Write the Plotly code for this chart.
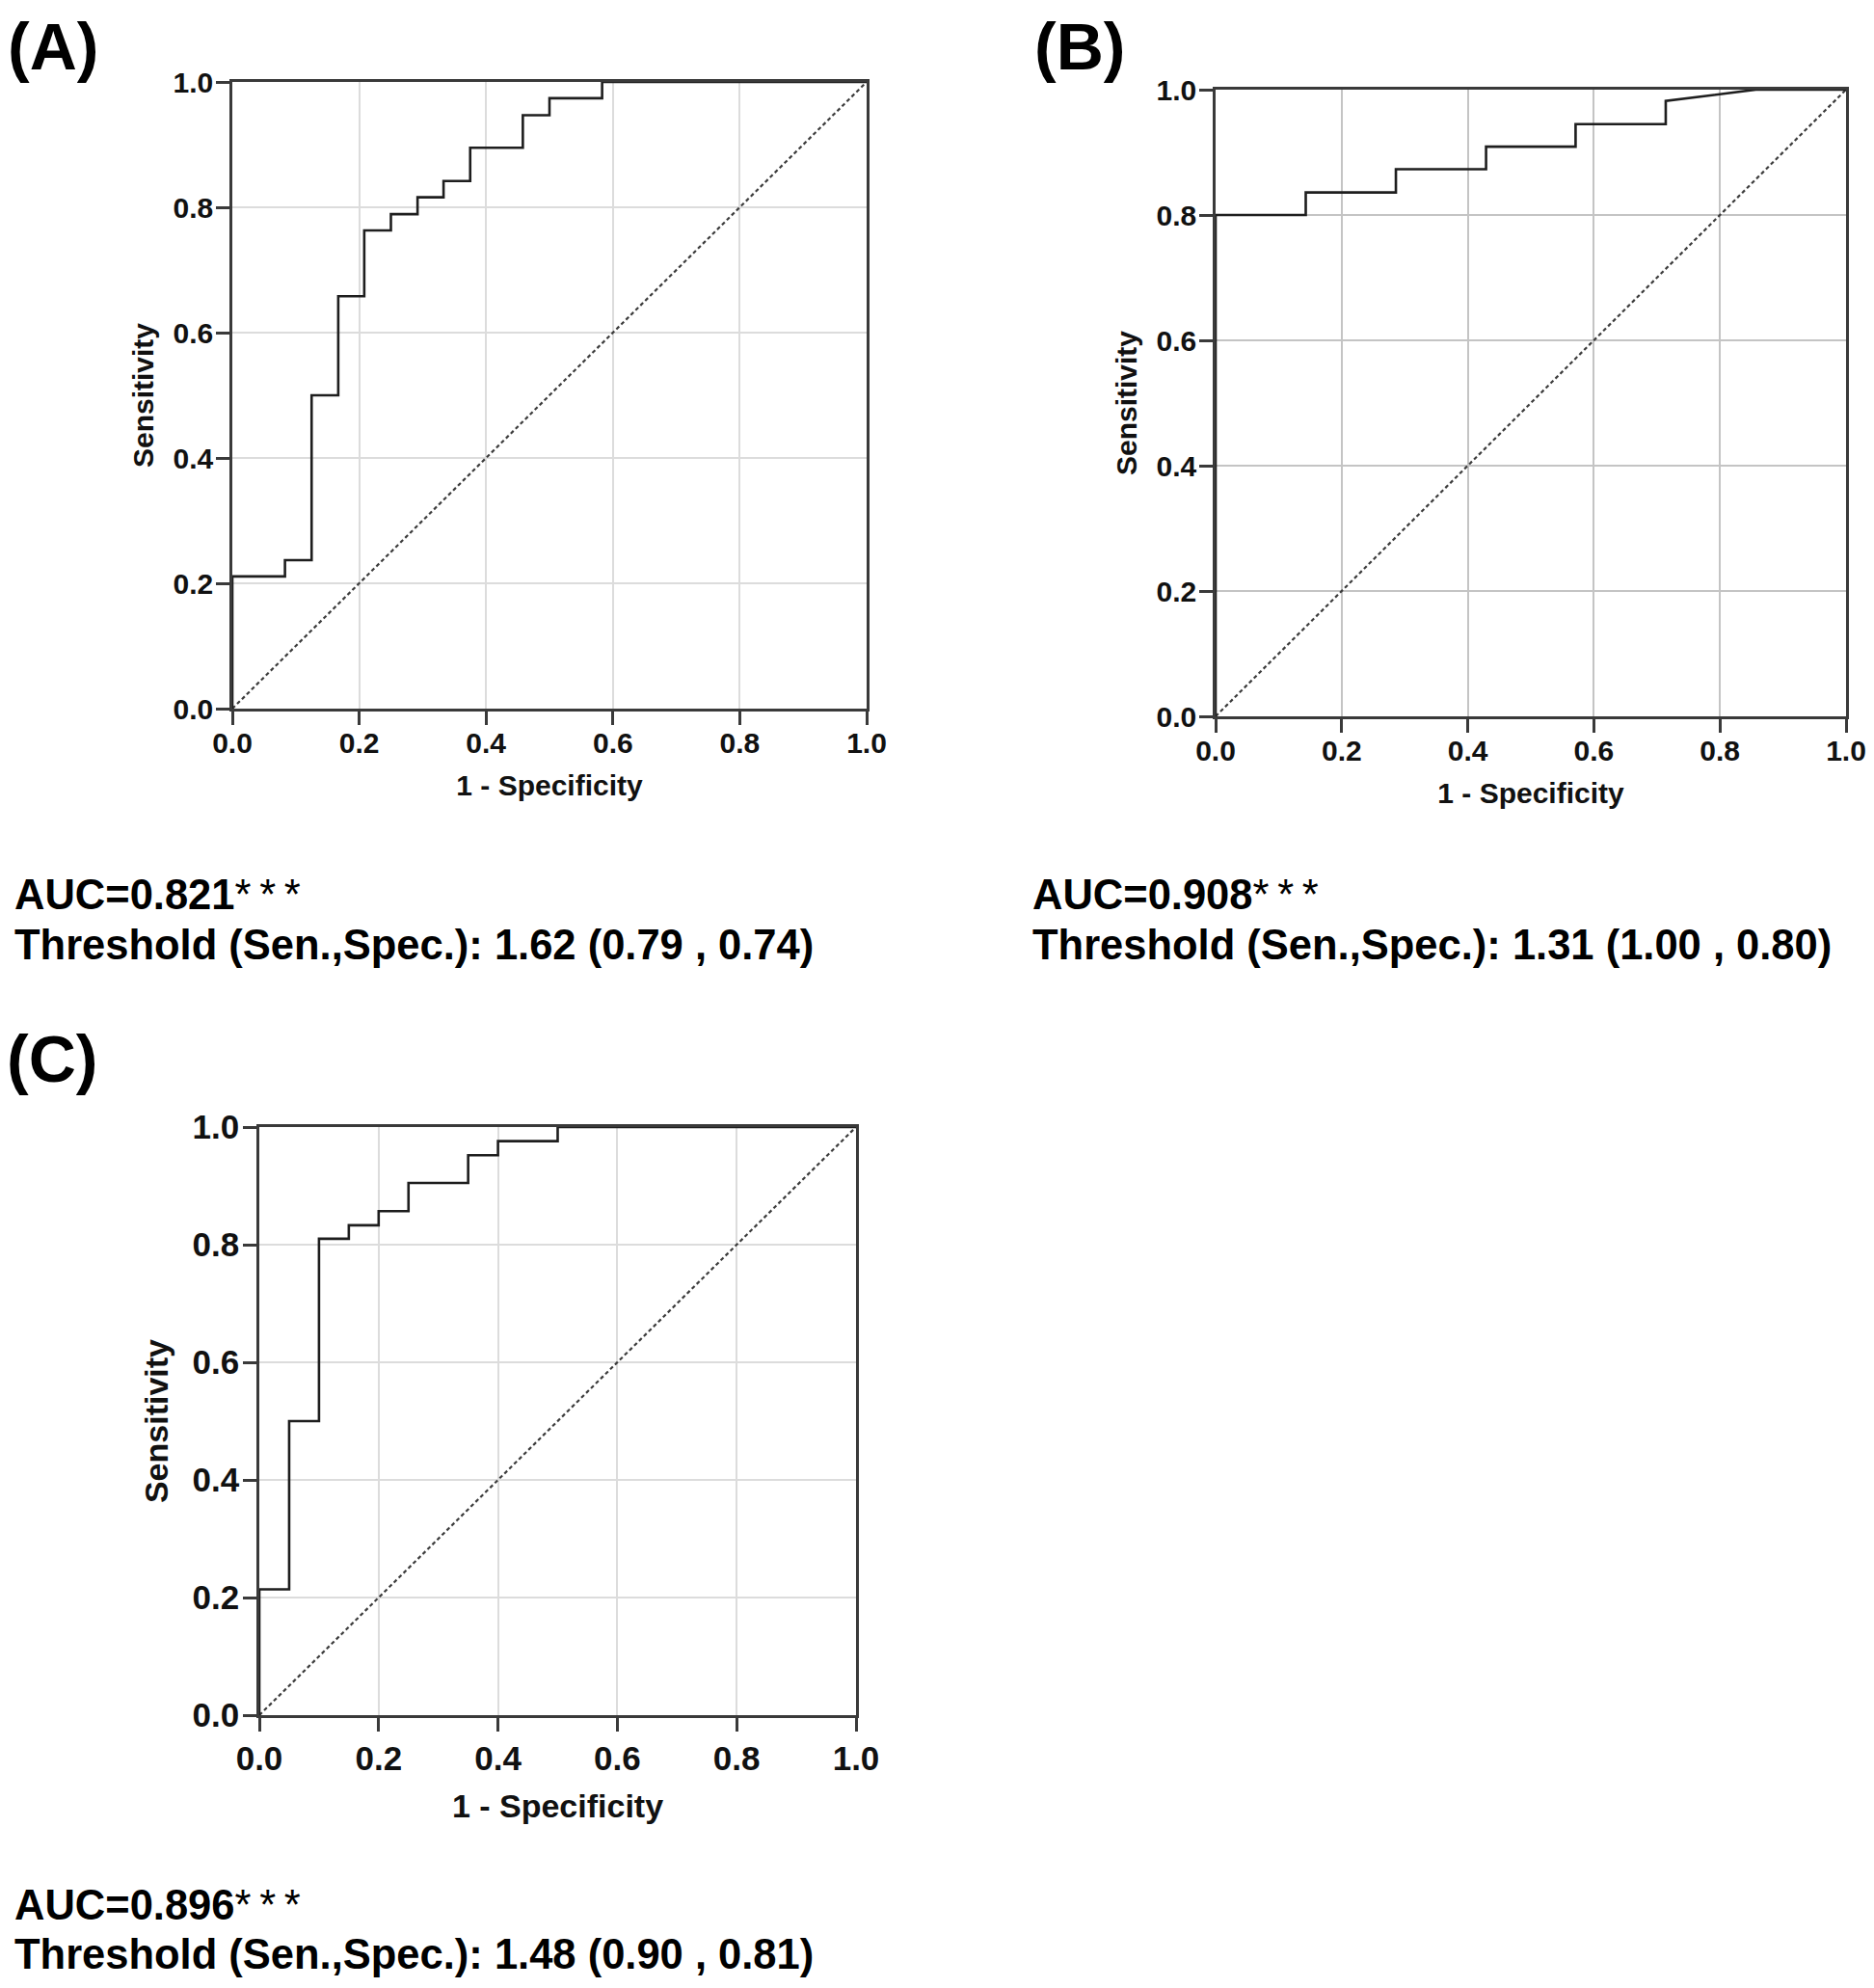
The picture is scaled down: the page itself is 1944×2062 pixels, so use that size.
import plotly.graph_objects as go

# ---------------- data ----------------
# ROC curve vertices: 1 - Specificity (x) and Sensitivity (y)
fpr_A = [0, 0, 0.083, 0.083, 0.125, 0.125, 0.167, 0.167, 0.208, 0.208, 0.25, 0.25,
         0.292, 0.292, 0.333, 0.333, 0.375, 0.375, 0.458, 0.458, 0.5, 0.5, 0.583, 0.583, 1.0]
sen_A = [0, 0.211, 0.211, 0.237, 0.237, 0.5, 0.5, 0.658, 0.658, 0.763, 0.763, 0.789,
         0.789, 0.816, 0.816, 0.842, 0.842, 0.895, 0.895, 0.947, 0.947, 0.974, 0.974, 1.0, 1.0]

fpr_B = [0, 0, 0.143, 0.143, 0.286, 0.286, 0.429, 0.429, 0.571, 0.571, 0.714, 0.714, 0.857, 1.0]
sen_B = [0, 0.8, 0.8, 0.836, 0.836, 0.873, 0.873, 0.909, 0.909, 0.945, 0.945, 0.982, 1.0, 1.0]

fpr_C = [0, 0, 0.05, 0.05, 0.1, 0.1, 0.15, 0.15, 0.2, 0.2, 0.25, 0.25, 0.35, 0.35, 0.4, 0.4, 0.5, 0.5, 1.0]
sen_C = [0, 0.214, 0.214, 0.5, 0.5, 0.81, 0.81, 0.833, 0.833, 0.857, 0.857, 0.905, 0.905,
         0.952, 0.952, 0.976, 0.976, 1.0, 1.0]

ref_line = [0, 1]

panel_labels = ["(A)", "(B)", "(C)"]
auc_values = ["0.821", "0.908", "0.896"]
thresholds = ["1.62 (0.79 , 0.74)", "1.31 (1.00 , 0.80)", "1.48 (0.90 , 0.81)"]
tick_vals = [0, 0.2, 0.4, 0.6, 0.8, 1.0]
tick_text = ["0.0", "0.2", "0.4", "0.6", "0.8", "1.0"]
x_title = "1 - Specificity"
y_title = "Sensitivity"

# ---------------- layout constants (pixels, figure coordinates) ----------------
W, H = 1928, 2046          # page body adds an 8 px margin around the figure
FONT = "Liberation Sans, Arial, sans-serif"

# plot boxes: left, right, top, bottom
boxes = [(233, 891, 77, 727), (1253, 1907, 85, 735), (261, 880, 1161, 1771)]
tick_sizes = [30, 30, 35]
title_sizes = [30, 30, 34]
x_label_shift = [-7, -7, -2]
y_label_shift = [-3, -3, -3]
x_title_standoff = [19, 19, 20]
y_title_standoff = [12, 12, 15]
grid_colors = ["#dcdcdc", "#c4c4c4", "#dcdcdc"]

def px(x):
    return x / W

def py(y):
    return 1 - y / H

fig = go.Figure()

curves = [(fpr_A, sen_A), (fpr_B, sen_B), (fpr_C, sen_C)]
for i, (fx, sy) in enumerate(curves):
    xa = "x" if i == 0 else f"x{i+1}"
    ya = "y" if i == 0 else f"y{i+1}"
    fig.add_trace(go.Scatter(x=ref_line, y=ref_line, mode="lines", xaxis=xa, yaxis=ya,
                             line=dict(color="#3c3c3c", width=2.2, dash="4px,3px"),
                             showlegend=False, hoverinfo="skip"))
    fig.add_trace(go.Scatter(x=fx, y=sy, mode="lines", xaxis=xa, yaxis=ya,
                             line=dict(color="#1e1e1e", width=2.6),
                             showlegend=False))

for i, (l, r, t, b) in enumerate(boxes):
    xk = "xaxis" if i == 0 else f"xaxis{i+1}"
    yk = "yaxis" if i == 0 else f"yaxis{i+1}"
    ya_ref = "y" if i == 0 else f"y{i+1}"
    xa_ref = "x" if i == 0 else f"x{i+1}"
    common = dict(range=[0, 1], tickvals=tick_vals, ticktext=tick_text,
                  showgrid=True, gridcolor=grid_colors[i], gridwidth=2,
                  zeroline=False, showline=True, linecolor="#3a3a3a", linewidth=2.5,
                  mirror=True, ticks="outside", ticklen=14, tickwidth=2.5, tickcolor="#3a3a3a",
                  tickfont=dict(family=FONT, size=tick_sizes[i], color="#111111", weight="bold"),
                  automargin=False, fixedrange=True)
    fig.layout[xk] = dict(common, domain=[px(l), px(r)], anchor=ya_ref,
                          ticklabelstandoff=x_label_shift[i],
                          title=dict(text=x_title, standoff=x_title_standoff[i],
                                     font=dict(family=FONT, size=title_sizes[i], color="#111111",
                                               weight="bold")))
    fig.layout[yk] = dict(common, domain=[py(b), py(t)], anchor=xa_ref,
                          ticklabelstandoff=y_label_shift[i],
                          title=dict(text=y_title, standoff=y_title_standoff[i],
                                     font=dict(family=FONT, size=title_sizes[i], color="#111111",
                                               weight="bold")))

annotations = []
label_pos = [(-2, 40), (1063, 40), (-3, 1090)]
auc_pos = [(5, 920, 972), (1061, 920, 972), (5, 1968, 2019)]
for i in range(3):
    lx, ly = label_pos[i]
    annotations.append(dict(xref="paper", yref="paper", x=px(lx), y=py(ly),
                            xanchor="left", yanchor="middle", showarrow=False,
                            text=f"<b>{panel_labels[i]}</b>",
                            font=dict(family=FONT, size=68, color="#000000")))
    ax, ay1, ay2 = auc_pos[i]
    annotations.append(dict(xref="paper", yref="paper", x=px(ax), y=py(ay1),
                            xanchor="left", yanchor="middle", showarrow=False,
                            text=f"<b>AUC={auc_values[i]}</b>*\u2009*\u2009*",
                            font=dict(family=FONT, size=43.5, color="#000000")))
    annotations.append(dict(xref="paper", yref="paper", x=px(ax), y=py(ay2),
                            xanchor="left", yanchor="middle", showarrow=False,
                            text=f"<b>Threshold (Sen.,Spec.): {thresholds[i]}</b>",
                            font=dict(family=FONT, size=43.5, color="#000000")))

fig.update_layout(width=W, height=H, margin=dict(l=0, r=0, t=0, b=0, autoexpand=False),
                  paper_bgcolor="white", plot_bgcolor="white",
                  annotations=annotations, showlegend=False)

fig.write_html("out.html")
